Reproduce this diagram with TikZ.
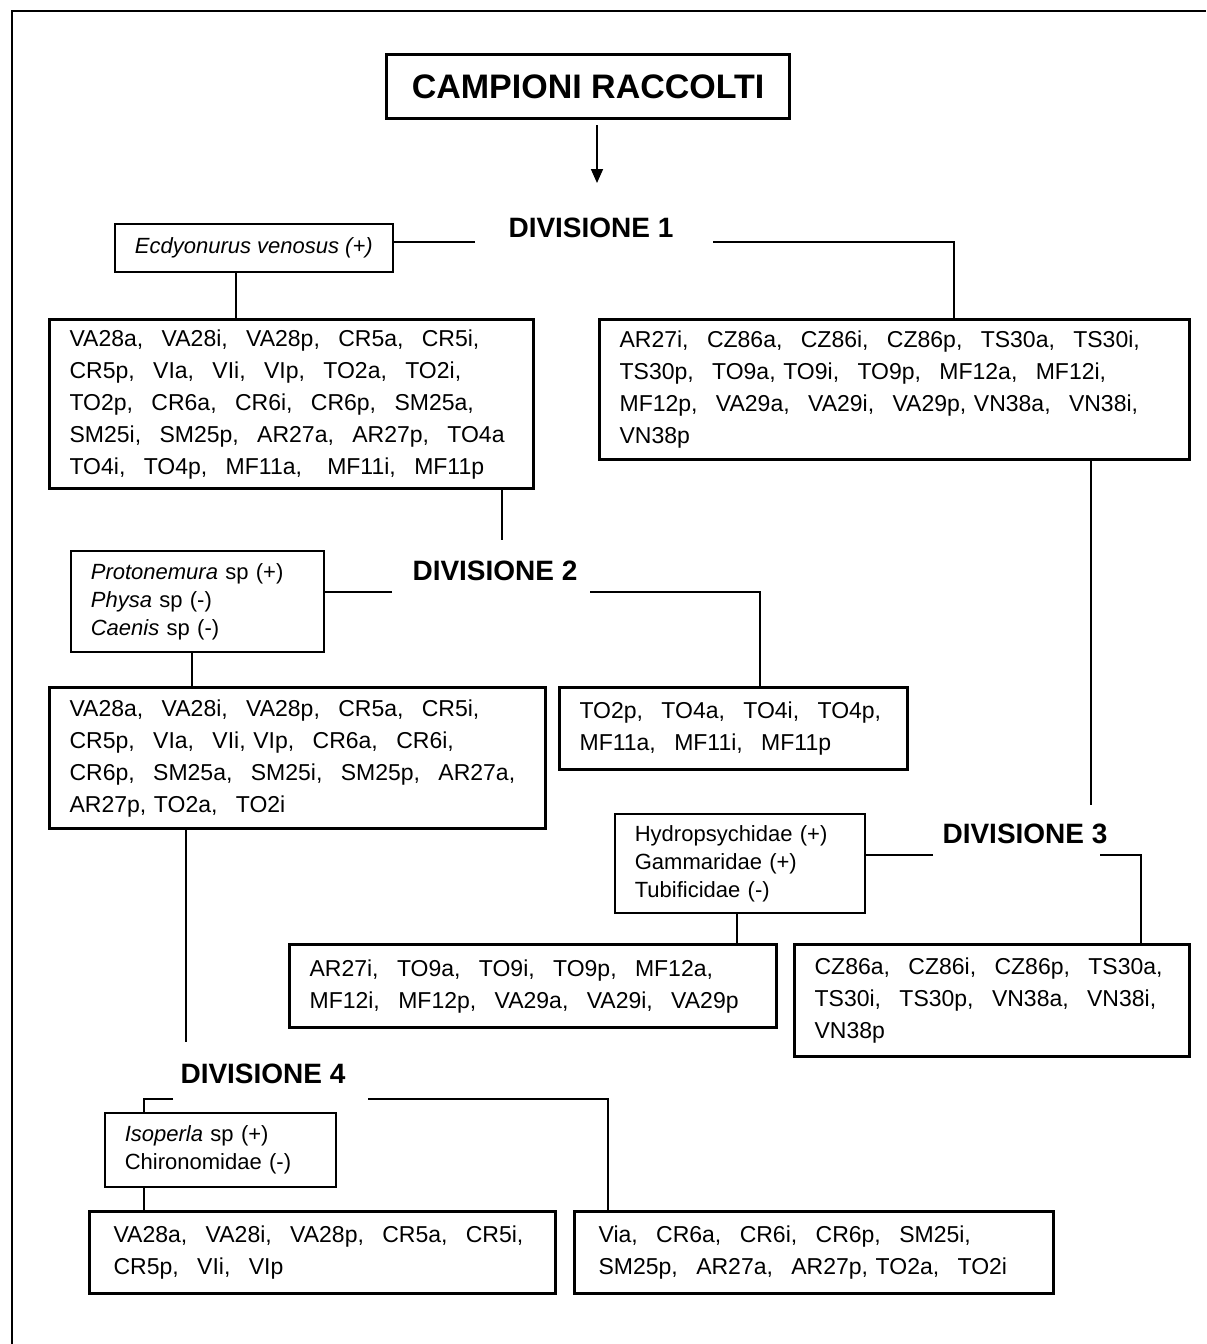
\documentclass[tikz,border=0pt]{standalone}
\usepackage{fontspec}
\setmainfont{Liberation Sans}
\usetikzlibrary{positioning,arrows.meta,calc}
\newcommand{\dsp}{\nobreak\hspace{0.8em}}
\tikzset{
  flowarr/.style={-{Triangle[length=7pt,width=6pt]},line width=0.85pt},
  conn/.style={line width=0.85pt},
  frameline/.style={line width=1pt},
  titlebox/.style={draw,line width=1.6pt,anchor=north west,inner sep=0pt,
    font=\fontsize{17}{20}\selectfont\bfseries},
  divlbl/.style={anchor=base,inner sep=0pt,
    font=\fontsize{14}{17}\selectfont\bfseries},
  grpbox/.style={draw,line width=1.6pt,anchor=north west,align=left,
    inner xsep=10pt,inner ysep=2pt,font=\fontsize{11.5}{16}\selectfont},
  spbox/.style={draw,line width=0.85pt,anchor=north west,align=left,
    inner xsep=10pt,inner ysep=2pt,font=\fontsize{11}{14}\selectfont},
}
\begin{document}
\begin{tikzpicture}[x=0.5pt,y=-0.5pt]
  \useasboundingbox (0,0) rectangle (1206,1344);
  \draw[frameline] (12,1344) -- (12,11) -- (1206,11);

  \node[titlebox,minimum width=201.5pt,minimum height=32pt] (camp) at (385,53)
    {CAMPIONI RACCOLTI};
  \coordinate (arr1) at (597,125);
  \coordinate (arr2) at (597,183);
  \draw[flowarr] (arr1) -- (arr2);

  % divisione 1
  \node[divlbl] (div1) at (591,237) {DIVISIONE 1};
  \node[spbox,align=center,inner xsep=0pt,minimum width=139pt,minimum height=24pt]
    (sp1) at (114,223) {\textit{Ecdyonurus venosus (+)}};
  \node[grpbox,minimum width=242pt,minimum height=84.5pt,text width=222pt] (g1a)
    at (48,318) {VA28a,\dsp VA28i,\dsp VA28p,\dsp CR5a,\dsp CR5i,\\
    CR5p,\dsp VIa,\dsp VIi,\dsp VIp,\dsp TO2a,\dsp TO2i,\\
    TO2p,\dsp CR6a,\dsp CR6i,\dsp CR6p,\dsp SM25a,\\
    SM25i,\dsp SM25p,\dsp AR27a,\dsp AR27p,\dsp TO4a\\
    TO4i,\dsp TO4p,\dsp MF11a,\dsp\nobreak\hspace{0.3em}MF11i,\dsp MF11p};
  \node[grpbox,minimum width=295pt,minimum height=70pt,text width=275pt] (g1b)
    at (598,318) {AR27i,\dsp CZ86a,\dsp CZ86i,\dsp CZ86p,\dsp TS30a,\dsp TS30i,\\
    TS30p,\dsp TO9a,~TO9i,\dsp TO9p,\dsp MF12a,\dsp MF12i,\\
    MF12p,\dsp VA29a,\dsp VA29i,\dsp VA29p,~VN38a,\dsp VN38i,\\
    VN38p};
  \coordinate (d1w) at (475,242);
  \coordinate (d1e) at (713,242);
  \coordinate (d1c) at (954,242);
  \coordinate (x1) at (236,0);
  \draw[conn] (d1w) -- (d1w -| sp1.east);
  \draw[conn] (d1e) -- (d1c) -- (d1c |- g1b.north);
  \draw[conn] (sp1.south -| x1) -- (g1a.north -| x1);

  % divisione 2
  \coordinate (x2) at (502,540);
  \draw[conn] (g1a.south -| x2) -- (x2);
  \node[divlbl] (div2) at (495,580) {DIVISIONE 2};
  \node[spbox,minimum width=126.5pt,minimum height=50.5pt,text width=106.5pt] (sp2)
    at (70,550) {\textit{Protonemura} sp (+)\\ \textit{Physa} sp (-)\\
    \textit{Caenis} sp (-)};
  \node[grpbox,minimum width=248pt,minimum height=70.5pt,text width=228pt] (g2a)
    at (48,686) {VA28a,\dsp VA28i,\dsp VA28p,\dsp CR5a,\dsp CR5i,\\
    CR5p,\dsp VIa,\dsp VIi,~VIp,\dsp CR6a,\dsp CR6i,\\
    CR6p,\dsp SM25a,\dsp SM25i,\dsp SM25p,\dsp AR27a,\\
    AR27p,~TO2a,\dsp TO2i};
  \node[grpbox,minimum width=174pt,minimum height=41pt,text width=154pt] (g2b)
    at (558,686) {TO2p,\dsp TO4a,\dsp TO4i,\dsp TO4p,\\
    MF11a,\dsp MF11i,\dsp MF11p};
  \coordinate (d2w) at (392,592);
  \coordinate (d2e) at (590,592);
  \coordinate (d2c) at (760,592);
  \coordinate (x3) at (192,0);
  \draw[conn] (d2w) -- (d2w -| sp2.east);
  \draw[conn] (d2e) -- (d2c) -- (d2c |- g2b.north);
  \draw[conn] (sp2.south -| x3) -- (g2a.north -| x3);

  % divisione 3
  \coordinate (x4) at (1091,805);
  \draw[conn] (g1b.south -| x4) -- (x4);
  \node[divlbl] (div3) at (1025,843) {DIVISIONE 3};
  \node[spbox,minimum width=125pt,minimum height=49.5pt,text width=105pt] (sp3)
    at (614,813) {Hydropsychidae (+)\\ Gammaridae (+)\\ Tubificidae (-)};
  \node[grpbox,minimum width=243.5pt,minimum height=41.5pt,text width=223.5pt] (g3a)
    at (288,943) {AR27i,\dsp TO9a,\dsp TO9i,\dsp TO9p,\dsp MF12a,\\
    MF12i,\dsp MF12p,\dsp VA29a,\dsp VA29i,\dsp VA29p};
  \node[grpbox,minimum width=197.5pt,minimum height=56pt,text width=177.5pt] (g3b)
    at (793,943) {CZ86a,\dsp CZ86i,\dsp CZ86p,\dsp TS30a,\\
    TS30i,\dsp TS30p,\dsp VN38a,\dsp VN38i,\\
    VN38p};
  \coordinate (d3w) at (933,855);
  \coordinate (d3e) at (1100,855);
  \coordinate (d3c) at (1141,855);
  \coordinate (x5) at (737,0);
  \draw[conn] (d3w) -- (d3w -| sp3.east);
  \draw[conn] (d3e) -- (d3c) -- (d3c |- g3b.north);
  \draw[conn] (sp3.south -| x5) -- (g3a.north -| x5);

  % divisione 4
  \coordinate (x6) at (186,1042);
  \draw[conn] (g2a.south -| x6) -- (x6);
  \node[divlbl] (div4) at (263,1083) {DIVISIONE 4};
  \node[spbox,minimum width=115.5pt,minimum height=37pt,text width=95.5pt] (sp4)
    at (104,1112) {\textit{Isoperla} sp (+)\\ Chironomidae (-)};
  \node[grpbox,inner xsep=12pt,minimum width=233pt,minimum height=41pt,
    text width=209pt] (g4a) at (88,1210)
    {VA28a,\dsp VA28i,\dsp VA28p,\dsp CR5a,\dsp CR5i,\\
    CR5p,\dsp VIi,\dsp VIp};
  \node[grpbox,inner xsep=12pt,minimum width=239.5pt,minimum height=41pt,
    text width=215.5pt] (g4b) at (573,1210)
    {Via,\dsp CR6a,\dsp CR6i,\dsp CR6p,\dsp SM25i,\\
    SM25p,\dsp AR27a,\dsp AR27p,~TO2a,\dsp TO2i};
  \coordinate (d4w) at (173,1099);
  \coordinate (d4c) at (144,1099);
  \coordinate (d4e) at (368,1099);
  \coordinate (d4f) at (608,1099);
  \draw[conn] (d4w) -- (d4c) -- (d4c |- sp4.north);
  \draw[conn] (d4e) -- (d4f) -- (d4f |- g4b.north);
  \draw[conn] (sp4.south -| d4c) -- (g4a.north -| d4c);
\end{tikzpicture}
\end{document}
